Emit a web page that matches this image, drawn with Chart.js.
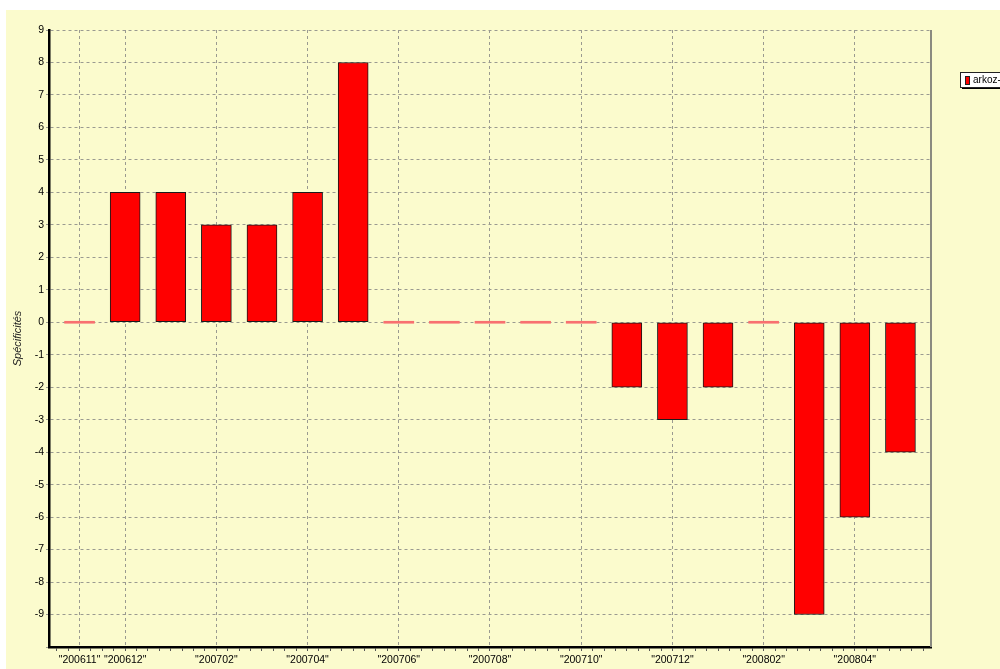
<!DOCTYPE html>
<html>
<head>
<meta charset="utf-8">
<script src="https://cdn.jsdelivr.net/npm/chart.js@4"></script>
<style>
  html, body { margin: 0; padding: 0; background: #ffffff; }
  #wrap { position: absolute; left: 6px; top: 10px; width: 994px; height: 659px; background: #fbfbcd; }
  canvas { display: block; }
</style>
</head>
<body>
<div id="wrap"><canvas id="myChart" width="994" height="659"></canvas></div>
<script>
// months on the x axis, and the value for each month
var months = ['200611', '200612', '200701', '200702', '200703', '200704', '200705',
              '200706', '200707', '200708', '200709', '200710', '200711', '200712',
              '200801', '200802', '200803', '200804', '200805'];
var values = [0, 4, 4, 3, 3, 4, 8, 0, 0, 0, 0, 0, -2, -3, -2, 0, -9, -6, -4];
// months that get a label and a vertical grid line
var shownMonths = ['200611', '200612', '200702', '200704', '200706', '200708',
                   '200710', '200712', '200802', '200804'];
var seriesLabel = 'arkoz-fr';

function isShown(v) {
    return Number.isInteger(v) && shownMonths.indexOf(months[v]) !== -1;
}

// small legend box at the top right, cut by the edge like the original
var legendBox = {
    id: 'legendBox',
    afterDraw: function (chart) {
        var c = chart.ctx;
        c.save();
        c.fillStyle = '#000';
        c.fillRect(956, 64, 60, 15);
        c.fillStyle = '#ffffff';
        c.fillRect(954, 62, 60, 15);
        c.strokeStyle = '#222';
        c.lineWidth = 1;
        c.strokeRect(954.5, 62.5, 60, 15);
        c.fillStyle = '#ff0000';
        c.fillRect(959, 66, 4, 8);
        c.strokeRect(959.5, 66.5, 4, 8);
        c.fillStyle = '#000';
        c.font = '10px "Liberation Sans", Arial, sans-serif';
        c.textBaseline = 'middle';
        c.fillText(chart.data.datasets[0].label, 967, 70.5);
        // grey right edge of the plot
        var a = chart.chartArea;
        c.strokeStyle = '#8a8a80';
        c.lineWidth = 2;
        c.beginPath();
        c.moveTo(a.right, a.top);
        c.lineTo(a.right, a.bottom);
        c.stroke();
        c.restore();
    }
};

var ctx = document.getElementById('myChart').getContext('2d');
var chart = new Chart(ctx, {
    type: 'bar',
    data: {
        datasets: [{
            label: seriesLabel,
            data: months.map(function (m, i) { return { x: i, y: values[i] }; }),
            backgroundColor: function (c) { return c.raw && c.raw.y === 0 ? '#f87070' : '#ff0000'; },
            borderColor: '#1a1a1a',
            borderWidth: function (c) { return c.raw && c.raw.y === 0 ? 0 : 1; },
            borderSkipped: false,
            barThickness: 30,
            minBarLength: 2
        }]
    },
    options: {
        responsive: false,
        animation: false,
        devicePixelRatio: 1,
        layout: { padding: { left: 0, top: 20, right: 69, bottom: 0 } },
        plugins: {
            legend: { display: false },
            tooltip: { enabled: false }
        },
        scales: {
            x: {
                type: 'linear',
                offset: false,
                min: -0.67,
                max: 18.67,
                afterBuildTicks: function (scale) {
                    var t = [];
                    for (var k = -2; k <= 74; k++) t.push({ value: k / 4 });
                    scale.ticks = t;
                },
                afterFit: function (scale) { scale.height = 22; },
                ticks: {
                    autoSkip: false,
                    maxRotation: 0,
                    padding: 3,
                    color: '#000',
                    font: { family: '"Liberation Sans", Arial, sans-serif', size: 10.5 },
                    callback: function (v) { return isShown(v) ? '"' + months[v] + '"' : ''; }
                },
                grid: {
                    offset: false,
                    color: function (c) { return c.tick && isShown(c.tick.value) ? '#9a9a90' : 'rgba(0,0,0,0)'; },
                    tickColor: '#555',
                    tickLength: 4
                },
                border: { display: true, color: '#000', width: 2.5, dash: [3, 3] }
            },
            y: {
                min: -10,
                max: 9,
                afterFit: function (scale) { scale.width = 43; },
                ticks: {
                    stepSize: 1,
                    padding: 2,
                    color: '#000',
                    font: { family: '"Liberation Sans", Arial, sans-serif', size: 10.5 },
                    callback: function (v) { return v === -10 ? '' : v; }
                },
                grid: {
                    color: '#9a9a90',
                    tickColor: '#9a9a90',
                    tickLength: 3
                },
                border: { display: true, color: '#000', width: 2.5, dash: [3, 3] },
                title: {
                    display: true,
                    text: 'Spécificités',
                    color: '#222',
                    padding: { top: 5, bottom: 0 },
                    font: { family: '"Liberation Sans", Arial, sans-serif', size: 11, style: 'italic' }
                }
            }
        }
    },
    plugins: [legendBox]
});
</script>
</body>
</html>
